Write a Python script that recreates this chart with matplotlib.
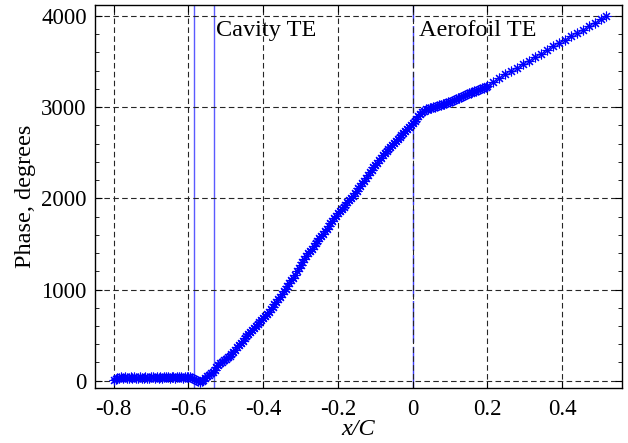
import numpy as np
import matplotlib
matplotlib.use("Agg")
import matplotlib.pyplot as plt
from matplotlib.ticker import MultipleLocator

# Phase along the cavity / aerofoil surface
# dense part: x/C from -0.80 to 0.20 every 0.005
x_dense = np.linspace(-0.80, 0.20, 201)
phase_dense = [
    5, 20, 28, 25, 35, 30, 38, 27, 33, 40,
    30, 36, 25, 34, 40, 31, 28, 37, 33, 26,
    35, 42, 30, 36, 33, 40, 29, 35, 44, 38,
    32, 41, 36, 30, 39, 45, 37, 33, 42, 38,
    35, 40, 30, 22, 8, -8, -15, -6, 8, 28,
    48, 66, 84, 100, 122, 148, 172, 190, 205, 222,
    238, 255, 274, 295, 318, 340, 365, 390, 415, 440,
    465, 492, 515, 535, 555, 575, 596, 618, 640, 662,
    684, 708, 732, 758, 785, 812, 838, 866, 893, 920,
    950, 980, 1010, 1040, 1071, 1100, 1128, 1160, 1198, 1235,
    1270, 1305, 1338, 1368, 1395, 1420, 1448, 1478, 1505, 1533,
    1560, 1585, 1612, 1640, 1668, 1696, 1725, 1754, 1782, 1810,
    1839, 1862, 1885, 1908, 1932, 1956, 1980, 2005, 2030, 2055,
    2080, 2108, 2137, 2166, 2195, 2225, 2255, 2285, 2314, 2340,
    2366, 2392, 2418, 2444, 2470, 2495, 2518, 2540, 2562, 2585,
    2607, 2630, 2652, 2673, 2694, 2714, 2734, 2756, 2780, 2803,
    2826, 2850, 2875, 2900, 2925, 2945, 2962, 2975, 2984, 2990,
    2995, 3000, 3006, 3012, 3018, 3024, 3030, 3036, 3043, 3051,
    3060, 3069, 3078, 3087, 3096, 3105, 3114, 3123, 3132, 3141,
    3150, 3158, 3166, 3174, 3182, 3190, 3198, 3206, 3214, 3222,
    3232,
]

# sparser part towards the end
x_sparse = [0.216, 0.232, 0.248, 0.264, 0.280, 0.296, 0.312, 0.328, 0.344, 0.360,
            0.376, 0.392, 0.408, 0.424, 0.440, 0.456, 0.472, 0.488, 0.504, 0.516]
phase_sparse = [3275, 3320, 3360, 3395, 3432, 3470, 3510, 3548, 3585, 3625,
                3665, 3705, 3740, 3775, 3812, 3847, 3885, 3925, 3962, 3995]

cavity_lines = [-0.584, -0.531]
aerofoil_te = 0.0
xticks = [-0.8, -0.6, -0.4, -0.2, 0, 0.2, 0.4]
xticklabels = ["-0.8", "-0.6", "-0.4", "-0.2", "0", "0.2", "0.4"]
yticks = [0, 1000, 2000, 3000, 4000]

plt.rcParams["font.family"] = ["Liberation Serif", "DejaVu Serif"]

fig = plt.figure(figsize=(6.28, 4.43), dpi=100)
ax = fig.add_axes([0.1513, 0.1242, 0.8391, 0.8645])

x_all = np.concatenate([x_dense, x_sparse])
phase_all = np.concatenate([phase_dense, phase_sparse])
ax.plot(x_all, phase_all, linestyle="none", marker=(8, 2, 0), markersize=7,
        markeredgewidth=0.8, color="#0000ff", zorder=3)

# trailing edge markers
for xc in cavity_lines:
    ax.axvline(xc, color="#5a5aff", linewidth=1.0, zorder=2)
ax.axvline(aerofoil_te, color="#3c3cff", linewidth=1.0,
           linestyle=(0, (30, 3)), zorder=2)

ax.text(-0.527, 3835, "Cavity TE", fontsize=17.5, ha="left", va="center")
ax.text(0.018, 3835, "Aerofoil TE", fontsize=17.5, ha="left", va="center")

ax.set_xlim(-0.85, 0.56)
ax.set_ylim(-80, 4120)
ax.set_xticks(xticks)
ax.set_xticklabels(xticklabels)
ax.set_yticks(yticks)
ax.yaxis.set_minor_locator(MultipleLocator(200))

ax.grid(True, which="major", color="0.15", linestyle=(0, (5, 3)), linewidth=0.8)
ax.set_axisbelow(False)
ax.tick_params(which="both", direction="in", top=True, right=True, labelsize=16.5)
ax.tick_params(axis="x", pad=8)
ax.tick_params(axis="y", pad=6)
ax.tick_params(which="major", length=5)
ax.tick_params(which="minor", length=3)
for s in ax.spines.values():
    s.set_linewidth(1.0)

ax.set_xlabel("x/C", fontsize=17.5, style="italic", labelpad=-1)
ax.set_ylabel("Phase, degrees", fontsize=17.5, labelpad=4)

fig.savefig("out.png", dpi=100)
